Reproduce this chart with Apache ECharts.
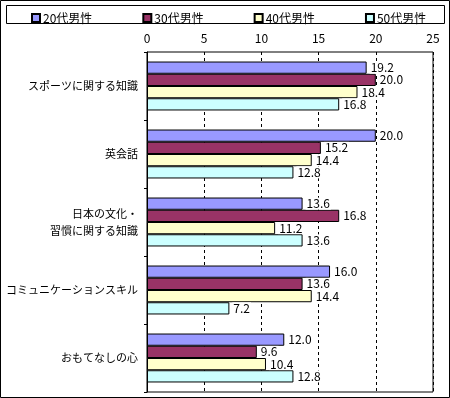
<!DOCTYPE html>
<html>
<head>
<meta charset="utf-8">
<script src="https://cdn.jsdelivr.net/npm/echarts@6/dist/echarts.min.js"></script>
<style>
    html, body { margin: 0; padding: 0; background: #fff; }
    #main { width: 450px; height: 398px; }
</style>
</head>
<body>
<div id="main"></div>
<script>
// data
const categories = ['スポーツに関する知識', '英会話', '日本の文化・\n習慣に関する知識', 'コミュニケーションスキル', 'おもてなしの心']
const seriesNames = ['20代男性', '30代男性', '40代男性', '50代男性']
const men20 = [19.2, 20.0, 13.6, 16.0, 12.0]
const men30 = [20.0, 15.2, 16.8, 13.6, 9.6]
const men40 = [18.4, 14.4, 11.2, 14.4, 10.4]
const men50 = [16.8, 12.8, 13.6, 7.2, 12.8]
const colors = ['#9999ff', '#993366', '#ffffcc', '#ccffff']

const font = '"Noto Sans CJK JP", sans-serif'
const chart = echarts.init(document.getElementById('main'))

function makeSeries(name, data, idx) {
    return {
        name,
        type: 'bar',
        data,
        barGap: 0,
        barCategoryGap: '28%',
        itemStyle: { color: colors[idx], borderColor: '#000', borderWidth: 1 },
        label: {
            show: true,
            position: 'right',
            distance: 3,
            color: '#000',
            fontSize: 12,
            fontFamily: font,
            backgroundColor: '#fff',
            padding: [0, 1],
            formatter: p => p.value.toFixed(1)
        }
    }
}

const options = {
    animation: false,
    textStyle: { fontFamily: font },
    graphic: [{
        // outer frame
        type: 'rect',
        shape: { x: 0.5, y: 0.5, width: 449, height: 397 },
        style: { fill: 'none', stroke: '#000', lineWidth: 1 },
        silent: true
    }, {
        // legend box
        type: 'rect',
        shape: { x: 6.5, y: 5.5, width: 438, height: 18 },
        style: { fill: 'none', stroke: '#000', lineWidth: 1 },
        silent: true
    }],
    legend: {
        left: 26,
        top: 7,
        itemWidth: 8,
        itemHeight: 8,
        itemGap: 50,
        icon: 'rect',
        textStyle: { fontSize: 12, color: '#000', fontFamily: font, padding: [0, 0, 0, -2] },
        data: seriesNames
    },
    grid: {
        left: 147,
        right: 17,
        top: 52,
        bottom: 6,
        outerBoundsMode: 'none',
        containLabel: false,
        show: true,
        borderColor: '#000',
        borderWidth: 1
    },
    xAxis: {
        type: 'value',
        position: 'top',
        min: 0,
        max: 25,
        interval: 5,
        axisLine: { show: false },
        axisTick: { show: false },
        axisLabel: { color: '#000', fontSize: 12, margin: 8, fontFamily: font },
        splitLine: { lineStyle: { color: '#000', type: [3, 3], width: 1 } }
    },
    yAxis: {
        type: 'category',
        inverse: true,
        data: categories,
        axisLine: { show: true, lineStyle: { color: '#000' } },
        axisTick: { show: true, length: 3, lineStyle: { color: '#000' } },
        axisLabel: { color: '#000', fontSize: 11, margin: 9, lineHeight: 17, fontFamily: font }
    },
    series: [
        makeSeries(seriesNames[0], men20, 0),
        makeSeries(seriesNames[1], men30, 1),
        makeSeries(seriesNames[2], men40, 2),
        makeSeries(seriesNames[3], men50, 3)
    ]
}
chart.setOption(options)
</script>
</body>
</html>
